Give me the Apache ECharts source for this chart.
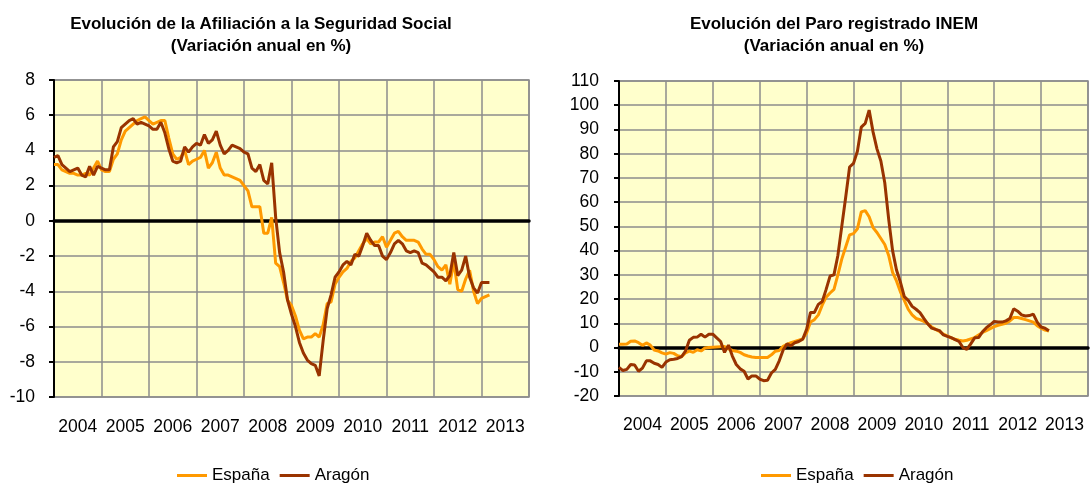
<!DOCTYPE html>
<html>
<head>
<meta charset="utf-8">
<script src="https://cdn.jsdelivr.net/npm/echarts@6/dist/echarts.min.js"></script>
<style>
html, body { margin: 0; padding: 0; background: #fff; }
#chart { width: 1090px; height: 484px; }
</style>
</head>
<body>
<div id="chart"></div>
<script>
// años del eje (cada banda = 12 meses)
var years = ['2004', '2005', '2006', '2007', '2008', '2009', '2010', '2011', '2012', '2013'];

// Afiliación a la Seguridad Social, variación anual %, ene-2004 .. mar-2013
var afilEspana = [
	3.2, 3.2, 2.9, 2.8, 2.7, 2.7, 2.6, 2.6, 2.7, 2.6, 3.0, 3.4,
	2.9, 2.8, 2.8, 3.5, 3.8, 4.6, 5.1, 5.3, 5.5, 5.7, 5.8, 5.9,
	5.7, 5.5, 5.6, 5.7, 5.7, 4.7, 3.8, 3.5, 3.6, 4.0, 3.2, 3.4,
	3.5, 3.6, 4.0, 3.0, 3.3, 3.9, 3.0, 2.6, 2.6, 2.5, 2.4, 2.3,
	2.0, 1.7, 0.8, 0.8, 0.8, -0.7, -0.7, 0.2, -2.4, -2.6, -3.5, -4.5,
	-4.8, -5.4, -6.2, -6.7, -6.6, -6.6, -6.4, -6.6, -5.9, -4.7, -4.6, -3.6,
	-3.2, -2.9, -2.7, -2.3, -2.1, -1.7, -1.3, -1.0, -1.3, -1.2, -1.2, -0.9,
	-1.5, -1.1, -0.7, -0.6, -0.9, -1.1, -1.1, -1.1, -1.2, -1.6, -1.9, -1.9,
	-2.2, -2.6, -2.8, -2.5, -3.6, -2.3, -3.9, -4.0, -3.3, -2.8, -4.0, -4.7,
	-4.4, -4.3, -4.2
];
var afilAragon = [
	3.6, 3.7, 3.2, 3.0, 2.8, 2.9, 3.0, 2.6, 2.5, 3.1, 2.6, 3.1,
	3.0, 2.9, 2.9, 4.2, 4.5, 5.3, 5.5, 5.7, 5.8, 5.5, 5.6, 5.5,
	5.4, 5.2, 5.2, 5.6, 5.0, 4.1, 3.4, 3.3, 3.4, 4.2, 3.9, 4.2,
	4.4, 4.3, 4.9, 4.4, 4.6, 5.1, 4.3, 3.8, 4.0, 4.3, 4.2, 4.1,
	3.9, 3.8, 3.0, 2.8, 3.2, 2.3, 2.1, 3.3, 0.2, -1.8, -2.9, -4.5,
	-5.3, -6.0, -6.9, -7.5, -7.9, -8.1, -8.2, -8.8, -6.8, -5.0, -4.2, -3.2,
	-2.9, -2.5, -2.3, -2.5, -1.9, -2.0, -1.4, -0.7, -1.1, -1.4, -1.4, -2.0,
	-2.2, -1.8, -1.3, -1.1, -1.3, -1.7, -1.8, -1.7, -1.8, -2.4, -2.5, -2.7,
	-2.9, -3.2, -3.2, -3.4, -3.1, -1.8, -3.1, -2.8, -2.0, -3.2, -3.8, -4.1,
	-3.5, -3.5, -3.5
];

// Paro registrado INEM, variación anual %
var paroEspana = [
	1.4, 1.4, 1.5, 2.6, 2.7, 2.0, 0.9, 1.9, 1.0, -1.0, -1.4, -2.2,
	-2.7, -2.1, -2.4, -3.4, -3.8, -2.2, -1.5, -2.0, -0.9, -1.4, -0.2, 0.0,
	0.1, 0.2, 0.3, 0.4, -0.5, -1.2, -1.5, -2.0, -3.0, -3.5, -3.9, -4.1,
	-4.1, -4.1, -4.1, -3.0, -1.5, -1.2, 0.5, 1.3, 2.0, 2.5, 3.0, 3.5,
	6.0, 10.5, 11.5, 13.5, 17.5, 20.8, 22.5, 24.0, 30.0, 36.5, 41.5, 46.5,
	47.0, 49.0, 56.0, 56.5, 54.0, 49.5, 47.5, 45.0, 42.5, 38.0, 31.0, 27.5,
	23.0, 19.5, 15.8, 13.5, 12.0, 11.5, 10.8, 9.8, 8.5, 7.5, 6.6, 5.5,
	4.8, 4.0, 3.4, 3.0, 2.7, 3.0, 3.6, 4.1, 5.2, 6.2, 7.0, 7.8,
	8.6, 9.2, 9.6, 10.0, 11.0, 12.4, 12.4, 12.0, 11.5, 11.0, 10.5, 9.0,
	8.0, 7.2, 6.8
];
var paroAragon = [
	-8.2, -9.5, -9.0, -7.0, -7.2, -9.8, -8.5, -5.5, -5.5, -6.5, -7.0, -8.2,
	-6.0, -5.0, -4.8, -4.5, -3.8, -1.5, 3.0, 4.2, 4.3, 5.5, 4.3, 5.5,
	5.5, 4.0, 2.5, -2.0, 1.0, -3.5, -7.0, -8.8, -9.8, -13.0, -11.7, -11.7,
	-13.0, -13.7, -13.5, -10.5, -9.0, -5.5, -1.0, 1.5, 0.7, 2.0, 2.5, 3.4,
	7.5, 14.5, 14.5, 17.8, 19.0, 24.0, 29.5, 30.0, 38.0, 50.0, 62.0, 74.5,
	76.0, 81.0, 91.0, 92.5, 98.0, 89.0, 82.0, 77.0, 68.0, 53.0, 40.0, 32.0,
	27.0, 21.0, 19.5, 17.0, 15.8, 14.4, 12.0, 9.8, 8.0, 7.5, 7.0, 5.2,
	4.6, 4.1, 3.3, 2.5, 0.0, -0.8, 1.5, 4.0, 4.1, 6.5, 8.2, 9.4,
	10.8, 10.5, 10.5, 11.0, 12.0, 16.0, 15.0, 13.5, 13.0, 13.2, 13.8, 10.5,
	8.5, 8.0, 6.9
];

var FONT = 'Liberation Sans';
var C_ESP = '#FF9900';
var C_ARA = '#993300';
var GRID_GRAY = '#8c8c8c';

// [mes, valor] -> eje x numérico de meses (0 = ene-2004)
function toPoints(arr) {
	return arr.map(function (v, i) { return [i, v]; });
}

function yAxisCfg(gridIndex, min, max, interval, margin) {
	return {
		type: 'value', gridIndex: gridIndex, min: min, max: max, interval: interval,
		axisLine: { show: true, onZero: false, lineStyle: { color: '#000', width: 2 } },
		axisTick: { show: true, length: 5, lineStyle: { color: '#000', width: 2 } },
		axisLabel: { color: '#000', fontFamily: FONT, fontSize: 17.5, margin: margin },
		splitLine: { show: true, lineStyle: { color: GRID_GRAY, width: 1.5 } }
	};
}

// eje de etiquetas (años centrados en cada banda)
function yearAxisCfg(gridIndex, margin) {
	return {
		type: 'category', gridIndex: gridIndex, data: years, boundaryGap: true, position: 'bottom',
		axisLine: { show: false, onZero: false },
		axisTick: { show: false },
		splitLine: { show: false },
		axisLabel: { color: '#000', fontFamily: FONT, fontSize: 17.5, margin: margin, interval: 0 }
	};
}

// eje de meses: rejilla vertical anual + línea negra del cero
function monthAxisCfg(gridIndex) {
	return {
		type: 'value', gridIndex: gridIndex, min: 0, max: 120, interval: 12,
		axisLine: { show: true, onZero: true, lineStyle: { color: '#000', width: 3.5 } },
		axisTick: { show: false },
		axisLabel: { show: false },
		splitLine: { show: true, lineStyle: { color: GRID_GRAY, width: 1.5 } }
	};
}

function lineSeries(name, data, color, xIdx, yIdx) {
	return {
		name: name, type: 'line', xAxisIndex: xIdx, yAxisIndex: yIdx,
		data: toPoints(data), showSymbol: false, symbol: 'none', smooth: false,
		lineStyle: { color: color, width: 3 }, itemStyle: { color: color },
		animation: false
	};
}

function legendCfg(left) {
	return {
		left: left, top: 462, icon: 'rect', itemWidth: 30, itemHeight: 3, itemGap: 10,
		textStyle: { color: '#000', fontFamily: FONT, fontSize: 17 },
		data: ['España', 'Aragón'], selectedMode: false
	};
}

var chart = echarts.init(document.getElementById('chart'), null, { renderer: 'canvas' });

chart.setOption({
	backgroundColor: '#fff',
	animation: false,
	title: [{
		text: 'Evolución de la Afiliación a la Seguridad Social\n(Variación anual en %)',
		left: 256, top: 8, textAlign: 'center',
		textStyle: { fontFamily: FONT, fontSize: 17, fontWeight: 'bold', color: '#000', lineHeight: 22 }
	}, {
		text: 'Evolución del Paro registrado INEM\n(Variación anual en %)',
		left: 829, top: 8, textAlign: 'center',
		textStyle: { fontFamily: FONT, fontSize: 17, fontWeight: 'bold', color: '#000', lineHeight: 22 }
	}],
	legend: [legendCfg(172), legendCfg(756)],
	grid: [{
		left: 54, top: 80, width: 475, height: 317,
		show: true, backgroundColor: '#FFFFCC', borderColor: GRID_GRAY, borderWidth: 1.5
	}, {
		left: 619, top: 81, width: 469, height: 315,
		show: true, backgroundColor: '#FFFFCC', borderColor: GRID_GRAY, borderWidth: 1.5
	}],
	xAxis: [yearAxisCfg(0, 21), monthAxisCfg(0), yearAxisCfg(1, 20), monthAxisCfg(1)],
	yAxis: [yAxisCfg(0, -10, 8, 2, 19), yAxisCfg(1, -20, 110, 10, 20)],
	series: [
		lineSeries('España', afilEspana, C_ESP, 1, 0),
		lineSeries('Aragón', afilAragon, C_ARA, 1, 0),
		lineSeries('España', paroEspana, C_ESP, 3, 1),
		lineSeries('Aragón', paroAragon, C_ARA, 3, 1)
	]
});
</script>
</body>
</html>
